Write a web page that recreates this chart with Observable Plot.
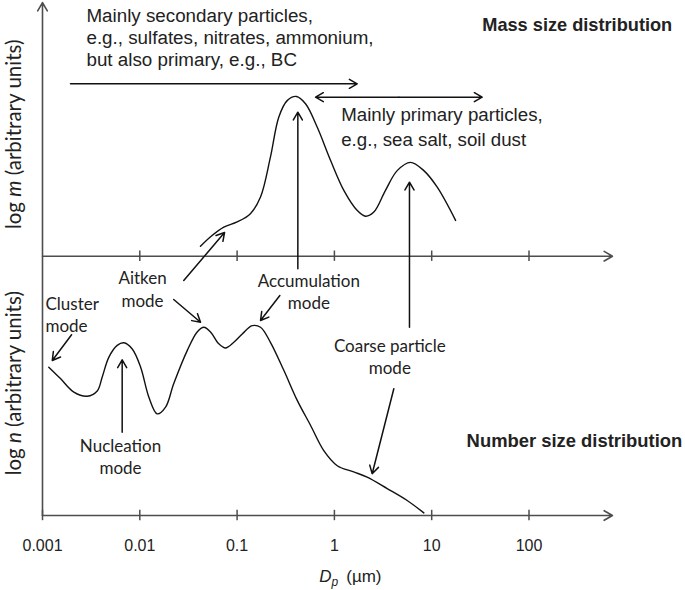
<!DOCTYPE html>
<html><head><meta charset="utf-8">
<script src="https://cdn.jsdelivr.net/npm/d3@7"></script>
<script src="https://cdn.jsdelivr.net/npm/@observablehq/plot@0.6"></script>
<style>body{margin:0;background:#fff}svg{display:block}</style>
</head><body><div id="chart"></div>
<script>
// Mass size distribution (log m, arbitrary units; upper baseline = 5)
const massDp  = [0.042,0.053,0.073,0.10,0.137,0.174,0.22,0.268,0.327,0.407,0.505,0.665,0.912,1.25,1.72,2.09,2.54,3.35,4.42,6.05,8.3,11.4,17.6];
const massLog = [5.19,5.37,5.56,5.66,5.82,6.14,6.91,7.68,8.00,8.08,7.94,7.49,6.85,6.27,5.88,5.77,5.85,6.27,6.65,6.81,6.65,6.33,5.69];
// Number size distribution (log n, arbitrary units; lower baseline = 0)
const numDp  = [0.00116,0.00153,0.0021,0.00288,0.00365,0.00411,0.0048,0.00586,0.00686,0.00836,0.0102,0.0124,0.0151,0.0184,0.0223,0.0307,0.0389,0.0455,0.0533,0.0649,0.076,0.0925,0.113,0.143,0.174,0.22,0.302,0.415,0.568,0.778,1.07,1.58,2.17,3.49,5.6,8.3];
const numLog = [2.86,2.64,2.38,2.30,2.40,2.67,3.05,3.28,3.33,3.21,2.86,2.28,1.96,2.09,2.54,3.18,3.54,3.63,3.54,3.31,3.23,3.34,3.50,3.66,3.63,3.34,2.80,2.22,1.74,1.25,0.96,0.84,0.74,0.52,0.29,0.05];
const tickValues = [0.001,0.01,0.1,1,10,100];
const tickLabels = ["0.001","0.01","0.1","1","10","100"];
const titleMass = "Mass size distribution";
const titleNumber = "Number size distribution";
const secondaryText = "Mainly secondary particles,\ne.g., sulfates, nitrates, ammonium,\nbut also primary, e.g., BC";
const primaryText = "Mainly primary particles,\ne.g., sea salt, soil dust";
const modeNames = ["Cluster\nmode","Aitken\nmode","Accumulation\nmode","Nucleation\nmode","Coarse particle\nmode"];
const yTitleMass = "log m (arbitrary units)";
const yTitleNumber = "log n (arbitrary units)";
const xTitle = "Dp (µm)";

const mass = massDp.map((d,i)=>({dp:d, v:massLog[i]}));
const num = numDp.map((d,i)=>({dp:d, v:numLog[i]}));
const seg = (x1,y1,x2,y2)=>({x1,y1,x2,y2});

const axisArrows = [seg(0.001,0,0.001,9.89), seg(0.001,5,721,5), seg(0.001,0,721,0)];
const noteArrows = [
  seg(0.00194,8.324,1.715,8.324),   // secondary range
  seg(4.596,8.066,0.64,8.066),      // primary range (left)
  seg(4.596,8.066,33.0,8.066),      // primary range (right)
  seg(0.421,4.757,0.421,7.777),     // accumulation (mass)
  seg(5.91,3.631,5.91,6.427),       // coarse (mass)
  seg(0.0283,4.531,0.0743,5.457),   // Aitken (mass)
  seg(0.0223,4.165,0.0421,3.727),   // Aitken (number)
  seg(0.275,4.242,0.174,3.760),     // accumulation (number)
  seg(0.00199,3.484,0.00126,2.989), // cluster
  seg(0.00659,1.606,0.00659,3.002), // nucleation
  seg(4.08,2.443,2.445,0.804)       // coarse (number)
];

const sans = "'Liberation Sans', Arial, sans-serif";
const cal = "Lato, 'Open Sans', sans-serif";
const ink = "#222";

const chart = Plot.plot({
  width: 685, height: 590,
  x: {type: "log", domain: [0.001, 1000], range: [42, 625.8], axis: null},
  y: {domain: [0, 10], range: [515, -3.6], axis: null},
  style: {background: "white", overflow: "visible"},
  marks: [
    Plot.arrow(axisArrows, {x1:"x1", y1:"y1", x2:"x2", y2:"y2", stroke:"#4d4d4d", strokeWidth:1.6, headLength:9}),
    Plot.ruleX(tickValues.slice(1), {x: d=>d, y1: 4.9, y2: 5.1, stroke:"#4d4d4d", strokeWidth:1.5}),
    Plot.ruleX(tickValues, {x: d=>d, y1: -0.1, y2: 0.1, stroke:"#4d4d4d", strokeWidth:1.5}),
    Plot.text(tickValues, {x: d=>d, y: -0.68, text: (d,i)=>tickLabels[i], fontFamily: sans, fontSize: 16, fill: ink, lineAnchor: "bottom"}),
    Plot.line(mass, {x:"dp", y:"v", curve:"catmull-rom", stroke:"#111", strokeWidth:1.4}),
    Plot.line(num, {x:"dp", y:"v", curve:"catmull-rom", stroke:"#111", strokeWidth:1.4}),
    Plot.arrow(noteArrows, {x1:"x1", y1:"y1", x2:"x2", y2:"y2", stroke:"#111", strokeWidth:1.5, headLength:9}),
    Plot.text([secondaryText], {x: 0.00283, y: 8.664, text: d=>d, textAnchor:"start", lineAnchor:"bottom", lineHeight:1.18, fontFamily: sans, fontSize: 18.8, fill: ink}),
    Plot.text([primaryText], {x: 1.175, y: 7.121, text: d=>d, textAnchor:"start", lineAnchor:"bottom", lineHeight:1.34, fontFamily: sans, fontSize: 18.7, fill: ink}),
    Plot.text([titleMass], {x: 2965, y: 9.352, text: d=>d, textAnchor:"end", lineAnchor:"bottom", fontFamily: sans, fontSize: 18.2, fontWeight:"bold", fill: ink}),
    Plot.text([titleNumber], {x: 3757, y: 1.317, text: d=>d, textAnchor:"end", lineAnchor:"bottom", fontFamily: sans, fontSize: 18.4, fontWeight:"bold", fill: ink}),
    Plot.text([modeNames[0]], {x: 0.001073, y: 3.538, text: d=>d, textAnchor:"start", lineAnchor:"bottom", lineHeight:1.3, fontFamily: cal, fontSize: 17, fill: ink}),
    Plot.text([modeNames[1]], {x: 0.01067, y: 4.030, text: d=>d, textAnchor:"middle", lineAnchor:"bottom", lineHeight:1.3, fontFamily: cal, fontSize: 17, fill: ink}),
    Plot.text([modeNames[2]], {x: 0.546, y: 3.986, text: d=>d, textAnchor:"middle", lineAnchor:"bottom", lineHeight:1.3, fontFamily: cal, fontSize: 17, fill: ink}),
    Plot.text([modeNames[3]], {x: 0.00634, y: 0.804, text: d=>d, textAnchor:"middle", lineAnchor:"bottom", lineHeight:1.3, fontFamily: cal, fontSize: 17, fill: ink}),
    Plot.text([modeNames[4]], {x: 3.71, y: 2.732, text: d=>d, textAnchor:"middle", lineAnchor:"bottom", lineHeight:1.3, fontFamily: cal, fontSize: 17, fill: ink}),
    Plot.text([yTitleMass], {x: 0.000601, y: 7.35, text: d=>d, rotate:-90, textAnchor:"middle", lineAnchor:"bottom", fontFamily: cal, fontSize: 20.5, fill: ink}),
    Plot.text([yTitleNumber], {x: 0.000601, y: 2.55, text: d=>d, rotate:-90, textAnchor:"middle", lineAnchor:"bottom", fontFamily: cal, fontSize: 20.5, fill: ink}),
    Plot.text([xTitle], {x: 1.46, y: -1.29, text: d=>d, textAnchor:"middle", lineAnchor:"bottom", fontFamily: sans, fontSize: 17, fill: ink})
  ]
});
document.getElementById("chart").appendChild(chart);

// italic variables inside axis titles (rebuilt as tspans of the same text element)
function richen(content, parts) {
  const t = d3.select(chart).selectAll("text").filter(function() { return this.textContent === content; });
  if (t.empty()) return;
  t.text(null);
  parts.forEach(p => {
    const s = t.append("tspan").text(p.t);
    if (p.i) s.attr("font-style", "italic");
    if (p.dy) s.attr("dy", p.dy);
    if (p.dx) s.attr("dx", p.dx);
    if (p.fs) s.attr("font-size", p.fs);
  });
}
richen(yTitleMass, [{t:"log "},{t:"m",i:true},{t:" (arbitrary units)"}]);
richen(yTitleNumber, [{t:"log "},{t:"n",i:true},{t:" (arbitrary units)"}]);
richen(xTitle, [{t:"D",i:true},{t:"p",i:true,dy:"4",fs:"12"},{t:"(µm)",dy:"-4",dx:"8"}]);
</script></body></html>
